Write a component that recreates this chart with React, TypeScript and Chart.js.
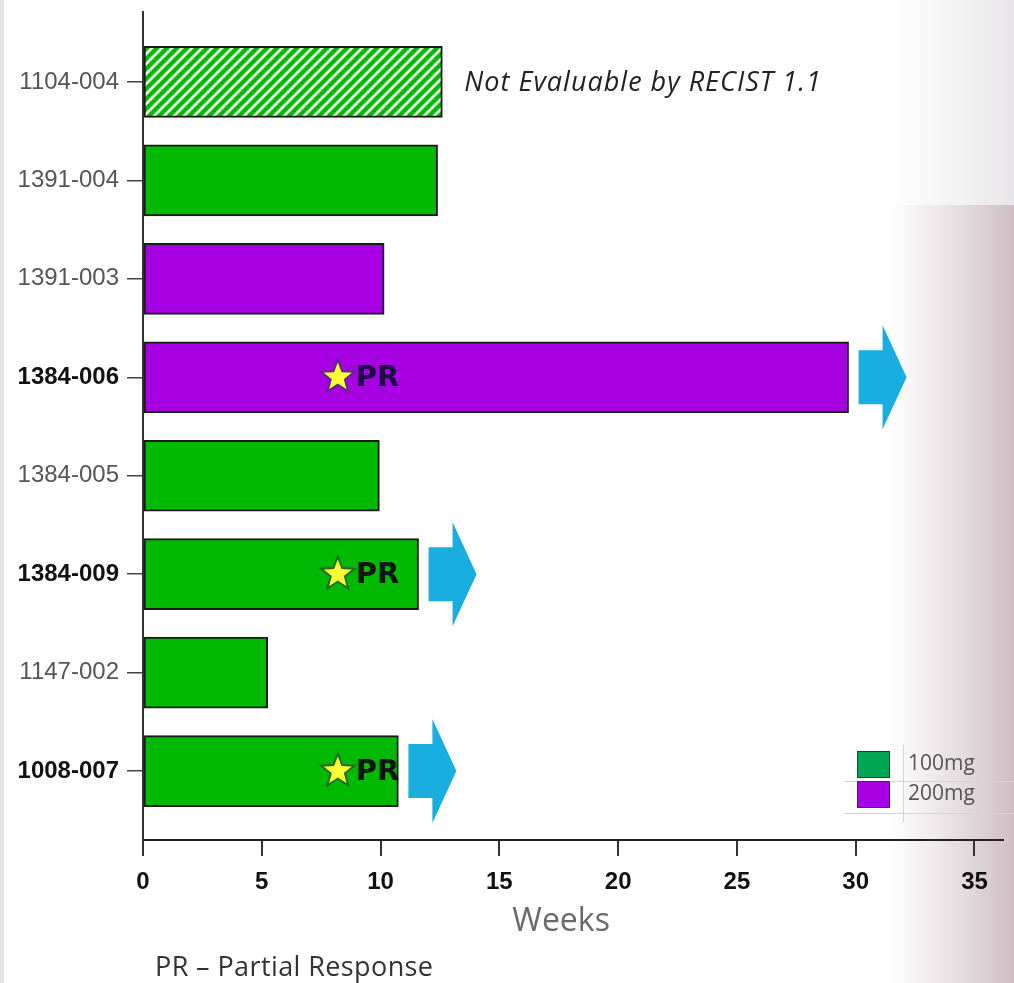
import React, { useEffect, useRef } from "react";
import { Chart, registerables } from "chart.js";

Chart.register(...registerables);

// ---- data ----
const patients = ["1104-004", "1391-004", "1391-003", "1384-006", "1384-005", "1384-009", "1147-002", "1008-007"];
const weeks = [12.6, 12.4, 10.15, 29.7, 9.95, 11.6, 5.25, 10.75];
const dose = ["100mg", "100mg", "200mg", "200mg", "100mg", "100mg", "100mg", "100mg"];
const boldLabel = [false, false, false, true, false, true, false, true];
const ongoing = [false, false, false, true, false, true, false, true];
const prWeek: (number | null)[] = [null, null, null, 8.2, null, 8.2, null, 8.2];
const notEvaluable = [true, false, false, false, false, false, false, false];
const xTicks = [0, 5, 10, 15, 20, 25, 30, 35];
const legendItems = ["100mg", "200mg"];

const GREEN = "#00B900";
const PURPLE = "#A600E2";
const LEGEND_COLORS: Record<string, string> = { "100mg": "#00A654", "200mg": "#A600E2" };
const ARROW = "#19ADE0";

function makeHatch(): CanvasPattern | string {
  const c = document.createElement("canvas");
  c.width = 10;
  c.height = 10;
  const g = c.getContext("2d");
  if (!g) return GREEN;
  g.fillStyle = GREEN;
  g.fillRect(0, 0, 10, 10);
  g.strokeStyle = "#E6FFE2";
  g.lineWidth = 2.8;
  g.beginPath();
  g.moveTo(-5, 5);
  g.lineTo(5, -5);
  g.moveTo(0, 10);
  g.lineTo(10, 0);
  g.moveTo(5, 15);
  g.lineTo(15, 5);
  g.stroke();
  const p = g.createPattern(c, "repeat");
  return p || GREEN;
}

function drawStar(ctx: CanvasRenderingContext2D, cx: number, cy: number, R: number, r: number, stroke: string) {
  ctx.save();
  ctx.beginPath();
  for (let k = 0; k < 10; k++) {
    const rad = k % 2 === 0 ? R : r;
    const a = -Math.PI / 2 + (k * Math.PI) / 5;
    const x = cx + rad * Math.cos(a);
    const y = cy + rad * Math.sin(a);
    if (k === 0) ctx.moveTo(x, y);
    else ctx.lineTo(x, y);
  }
  ctx.closePath();
  ctx.fillStyle = "#FFFF33";
  ctx.fill();
  ctx.lineWidth = 2;
  ctx.strokeStyle = stroke;
  ctx.stroke();
  ctx.restore();
}

function drawArrow(ctx: CanvasRenderingContext2D, x: number, cy: number) {
  const bodyW = 24, headW = 24, bodyH = 54, headH = 104;
  ctx.save();
  ctx.fillStyle = ARROW;
  ctx.beginPath();
  ctx.moveTo(x, cy - bodyH / 2);
  ctx.lineTo(x + bodyW, cy - bodyH / 2);
  ctx.lineTo(x + bodyW, cy - headH / 2);
  ctx.lineTo(x + bodyW + headW, cy);
  ctx.lineTo(x + bodyW, cy + headH / 2);
  ctx.lineTo(x + bodyW, cy + bodyH / 2);
  ctx.lineTo(x, cy + bodyH / 2);
  ctx.closePath();
  ctx.fill();
  ctx.restore();
}

const backgroundPlugin = {
  id: "bg",
  beforeDraw(chart: any) {
    const { ctx, width, height } = chart;
    ctx.save();
    ctx.fillStyle = "#ffffff";
    ctx.fillRect(0, 0, width, height);
    const g = ctx.createLinearGradient(890, 0, width, 0);
    g.addColorStop(0, "rgba(214,200,205,0)");
    g.addColorStop(0.45, "rgba(214,200,205,0.5)");
    g.addColorStop(1, "rgba(205,190,196,1)");
    ctx.fillStyle = g;
    ctx.fillRect(890, 205, width - 890, height - 205);
    const g2 = ctx.createLinearGradient(890, 0, width, 0);
    g2.addColorStop(0, "rgba(235,235,235,0)");
    g2.addColorStop(1, "rgba(232,230,232,1)");
    ctx.fillStyle = g2;
    ctx.fillRect(890, 0, width - 890, 205);
    ctx.fillStyle = "#e4e4e4";
    ctx.fillRect(0, 0, 4, height);
    ctx.restore();
  },
};

const annotationPlugin = {
  id: "annot",
  afterDatasetsDraw(chart: any) {
    const { ctx } = chart;
    const meta = chart.getDatasetMeta(0);
    const xs = chart.scales.x;
    meta.data.forEach((bar: any, i: number) => {
      const cy = bar.y;
      if (ongoing[i]) drawArrow(ctx, bar.x + 10, cy);
      const pw = prWeek[i];
      if (pw !== null) {
        const sx = xs.getPixelForValue(pw);
        const purple = dose[i] === "200mg";
        drawStar(ctx, sx, cy, 17.5, 7.5, purple ? "#5b2a86" : "#1f6e1f");
        ctx.save();
        ctx.font = "bold 29px 'DejaVu Sans'";
        ctx.fillStyle = purple ? "#1c0d45" : "#0d160d";
        ctx.textAlign = "left";
        ctx.textBaseline = "middle";
        ctx.fillText("PR", sx + 18, cy + 1);
        ctx.restore();
      }
      if (notEvaluable[i]) {
        ctx.save();
        ctx.font = "italic 27px 'Open Sans'";
        (ctx as any).letterSpacing = "1px";
        ctx.fillStyle = "#222";
        ctx.textAlign = "left";
        ctx.textBaseline = "middle";
        ctx.fillText("Not Evaluable by RECIST 1.1", bar.x + 22, cy + 1);
        ctx.restore();
      }
    });
  },
  afterDraw(chart: any) {
    const { ctx } = chart;
    const xs = chart.scales.x;
    ctx.save();
    // axis title and footnote
    ctx.font = "32px 'Open Sans'";
    ctx.fillStyle = "#6a6a6a";
    ctx.textAlign = "center";
    ctx.textBaseline = "middle";
    ctx.fillText("Weeks", xs.getPixelForValue(17.6), 922);
    ctx.font = "27px 'Open Sans'";
    (ctx as any).letterSpacing = "0.4px";
    ctx.fillStyle = "#333";
    ctx.textAlign = "left";
    ctx.fillText("PR \u2013 Partial Response", 155, 968);
    (ctx as any).letterSpacing = "0px";
    // legend (table-like)
    const lx = 857, ly = 751;
    ctx.strokeStyle = "#d4d4d4";
    ctx.lineWidth = 1;
    ctx.beginPath();
    ctx.moveTo(845, 781.5);
    ctx.lineTo(1014, 781.5);
    ctx.moveTo(845, 813.5);
    ctx.lineTo(1014, 813.5);
    ctx.moveTo(903.5, 745);
    ctx.lineTo(903.5, 822);
    ctx.stroke();
    legendItems.forEach((name, k) => {
      const y = ly + k * 30;
      ctx.fillStyle = LEGEND_COLORS[name];
      ctx.fillRect(lx, y, 33, 27);
      ctx.strokeStyle = "#333";
      ctx.lineWidth = 1;
      ctx.strokeRect(lx + 0.5, y + 0.5, 32, 26);
      ctx.fillStyle = "#555";
      ctx.font = "21px 'Open Sans'";
      ctx.textAlign = "left";
      ctx.textBaseline = "middle";
      ctx.fillText(name, 908, y + 13);
    });
    ctx.restore();
  },
};

export default function App() {
  const ref = useRef<HTMLCanvasElement | null>(null);

  useEffect(() => {
    document.body.style.margin = "0";
    const canvas = ref.current;
    if (!canvas) return;
    const hatch = makeHatch();
    const colors = patients.map((_, i) =>
      notEvaluable[i] ? hatch : dose[i] === "200mg" ? PURPLE : GREEN
    );
    const chart = new Chart(canvas, {
      type: "bar",
      data: {
        datasets: [
          {
            label: "Weeks on treatment",
            data: weeks.map((w, i) => ({ x: w, y: i })),
            backgroundColor: colors as any,
            borderColor: "#1a1a1a",
            borderWidth: 2,
            borderSkipped: false,
            barThickness: 71,
          },
        ],
      },
      options: {
        indexAxis: "y",
        animation: false,
        responsive: false,
        maintainAspectRatio: false,
        layout: { padding: { top: 12, right: 11, bottom: 0, left: 0 } },
        plugins: { legend: { display: false }, tooltip: { enabled: false } },
        scales: {
          x: {
            type: "linear",
            min: 0,
            max: 36.2,
            afterBuildTicks: (s: any) => {
              s.ticks = xTicks.map((v) => ({ value: v }));
            },
            afterFit: (s: any) => {
              s.height = 143;
              s.paddingLeft = 0;
              s.paddingRight = 0;
            },
            border: { display: true, color: "#222", width: 2 },
            grid: { drawOnChartArea: false, drawTicks: true, tickLength: 16, color: "#333", lineWidth: 2 },
            ticks: {
              padding: 12,
              color: "#111",
              font: { family: "'Liberation Sans', Arial", size: 24, weight: "bold" },
              maxRotation: 0,
              autoSkip: false,
            },
          },
          y: {
            type: "linear",
            reverse: true,
            offset: false,
            min: -0.71,
            max: 7.7,
            afterBuildTicks: (s: any) => {
              s.ticks = patients.map((_, i) => ({ value: i }));
            },
            afterFit: (s: any) => {
              s.width = 143;
              s.paddingTop = 0;
              s.paddingBottom = 0;
            },
            border: { display: true, color: "#333", width: 2 },
            grid: { offset: false, drawOnChartArea: false, drawTicks: true, tickLength: 16, color: "#444", lineWidth: 1.5 },
            ticks: {
              padding: 8,
              autoSkip: false,
              callback: (v: any) => patients[v as number] ?? "",
              color: (c: any) => (boldLabel[c.index] ? "#111" : "#555"),
              font: (c: any) => ({
                family: "'Liberation Sans', Arial",
                size: 24,
                weight: boldLabel[c.index] ? "bold" : "normal",
              }),
            },
          },
        },
      },
      plugins: [backgroundPlugin, annotationPlugin],
    });
    return () => chart.destroy();
  }, []);

  return (
    <div style={{ width: 1014, height: 983 }}>
      <canvas ref={ref} width={1014} height={983} style={{ display: "block", width: 1014, height: 983 }} />
    </div>
  );
}
